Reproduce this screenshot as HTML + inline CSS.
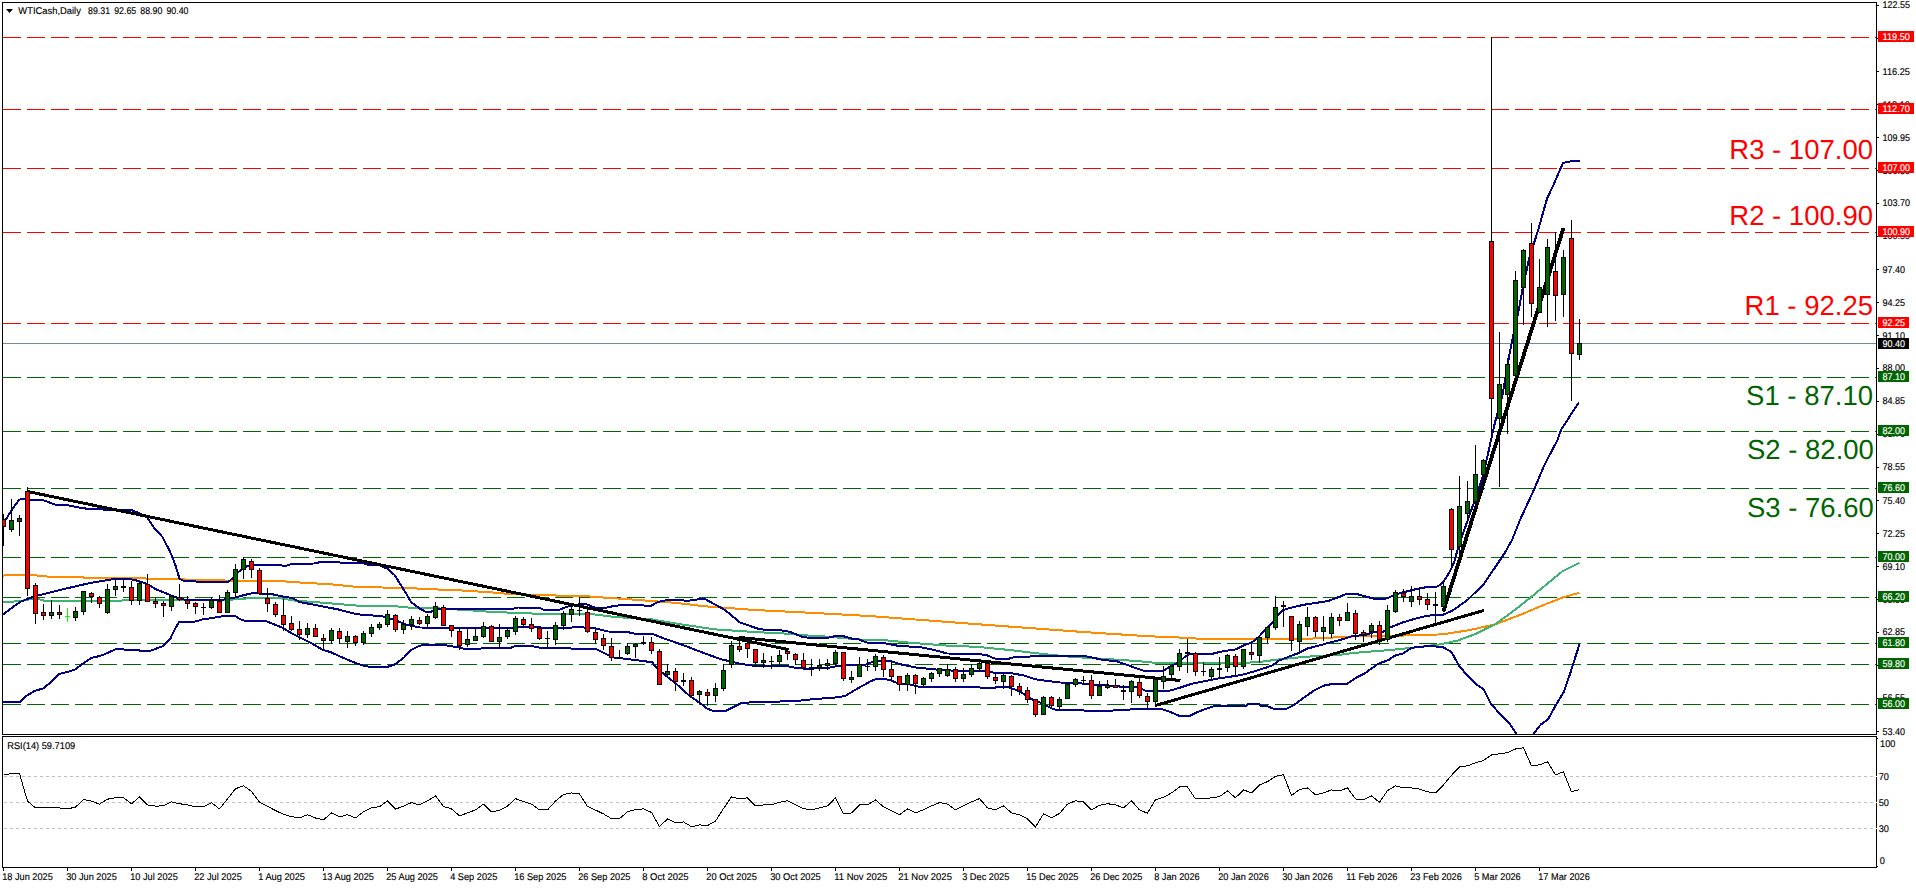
<!DOCTYPE html><html><head><meta charset="utf-8"><title>WTICash Daily</title>
<style>html,body{margin:0;padding:0;background:#fff;overflow:hidden}svg{display:block}text{font-family:"Liberation Sans",sans-serif;text-rendering:geometricPrecision}</style></head><body>
<svg width="1916" height="888" viewBox="0 0 1916 888">
<rect x="0" y="0" width="1916" height="888" fill="#fff"/>
<defs><clipPath id="cm"><rect x="3" y="3" width="1873" height="731"/></clipPath><clipPath id="cr"><rect x="3" y="737" width="1873" height="130"/></clipPath></defs>
<g shape-rendering="crispEdges">
<line x1="3" y1="37.5" x2="1876" y2="37.5" stroke="#ff0000" stroke-width="1" stroke-dasharray="18 6"/>
<line x1="3" y1="109.5" x2="1876" y2="109.5" stroke="#ff0000" stroke-width="1" stroke-dasharray="18 6"/>
<line x1="3" y1="168.5" x2="1876" y2="168.5" stroke="#ff0000" stroke-width="1" stroke-dasharray="18 6"/>
<line x1="3" y1="232.5" x2="1876" y2="232.5" stroke="#ff0000" stroke-width="1" stroke-dasharray="18 6"/>
<line x1="3" y1="323.5" x2="1876" y2="323.5" stroke="#ff0000" stroke-width="1" stroke-dasharray="18 6"/>
<line x1="3" y1="377.5" x2="1876" y2="377.5" stroke="#006400" stroke-width="1" stroke-dasharray="18 6"/>
<line x1="3" y1="431.5" x2="1876" y2="431.5" stroke="#006400" stroke-width="1" stroke-dasharray="18 6"/>
<line x1="3" y1="488.5" x2="1876" y2="488.5" stroke="#006400" stroke-width="1" stroke-dasharray="18 6"/>
<line x1="3" y1="557.5" x2="1876" y2="557.5" stroke="#006400" stroke-width="1" stroke-dasharray="18 6"/>
<line x1="3" y1="597.5" x2="1876" y2="597.5" stroke="#006400" stroke-width="1" stroke-dasharray="18 6"/>
<line x1="3" y1="643.5" x2="1876" y2="643.5" stroke="#006400" stroke-width="1" stroke-dasharray="18 6"/>
<line x1="3" y1="664.5" x2="1876" y2="664.5" stroke="#006400" stroke-width="1" stroke-dasharray="18 6"/>
<line x1="3" y1="704.5" x2="1876" y2="704.5" stroke="#006400" stroke-width="1" stroke-dasharray="18 6"/>
<line x1="3" y1="343.5" x2="1876" y2="343.5" stroke="#778899" stroke-width="1"/>
</g>
<g clip-path="url(#cm)" shape-rendering="crispEdges">
<polyline points="3.0,575.6 12.0,574.6 34.0,574.6 37.0,575.6 52.0,577.0 82.0,577.0 85.0,578.0 140.0,578.0 150.0,578.8 180.0,579.0 190.0,580.0 232.0,580.6 273.0,580.6 299.6,582.5 332.0,584.4 357.0,586.9 382.0,587.5 407.0,588.0 435.0,589.4 452.0,590.0 464.0,590.6 489.0,592.2 507.8,593.8 551.7,595.4 589.0,596.4 603.0,597.5 639.0,600.0 677.0,603.0 704.0,606.2 755.0,610.0 815.0,613.0 872.0,616.2 922.0,620.0 972.0,623.8 1022.0,627.5 1072.0,631.2 1104.0,633.4 1148.0,636.2 1179.0,637.5 1204.0,639.0 1302.5,639.0 1327.5,637.8 1352.5,636.5 1390.0,636.2 1415.0,635.0 1442.5,634.4 1470.0,630.0 1495.0,624.4 1520.0,615.0 1545.0,604.4 1562.5,597.5 1579.4,592.8" fill="none" stroke="#ff8c00" stroke-width="2.0" stroke-linejoin="round" />
<polyline points="3.0,602.5 20.0,601.0 30.0,599.4 40.0,599.4 45.0,601.0 120.0,601.0 125.0,599.8 232.0,599.6 252.0,598.0 282.0,598.5 294.6,600.6 319.7,602.5 357.0,605.6 388.6,605.6 413.6,608.0 432.0,608.0 472.0,610.4 491.5,611.9 539.0,613.8 589.0,613.8 614.0,616.9 652.0,619.4 677.5,623.8 715.0,629.4 752.5,631.9 790.0,633.8 815.0,636.2 827.5,636.6 865.0,640.0 883.0,640.0 913.0,643.0 947.0,645.6 978.0,646.9 1009.5,650.0 1041.0,653.8 1072.0,656.9 1104.0,658.9 1123.0,660.0 1141.5,661.5 1156.5,663.0 1241.5,663.0 1260.0,661.9 1279.0,659.4 1304.0,656.9 1343.5,654.4 1352.5,653.0 1390.0,650.0 1415.0,647.5 1440.0,644.4 1457.5,640.6 1476.0,633.8 1495.0,624.4 1514.0,610.6 1529.0,598.8 1545.0,585.6 1562.5,571.2 1579.4,562.8" fill="none" stroke="#3cb371" stroke-width="2.0" stroke-linejoin="round" />
<polyline points="3.0,523.0 5.0,521.0 11.0,511.0 19.0,500.0 21.0,499.2 29.0,499.4 31.0,500.2 43.5,500.2 56.5,505.2 68.0,505.2 76.0,507.0 88.0,508.9 110.0,509.8 131.0,510.0 139.0,513.0 147.0,517.0 154.0,527.7 162.3,536.8 168.5,548.5 173.0,558.4 176.0,567.0 179.5,578.8 183.0,580.6 203.0,582.0 228.0,582.0 232.0,578.8 236.0,573.8 243.5,568.0 248.0,565.6 257.0,565.0 287.0,565.6 292.0,563.8 314.5,563.5 320.8,561.9 338.0,561.9 340.8,562.9 362.0,563.0 368.0,564.6 379.5,565.4 387.0,568.5 394.5,575.0 400.8,585.0 407.0,595.0 411.0,601.9 420.0,608.8 426.0,611.9 431.0,611.9 435.5,608.8 472.0,608.8 514.0,608.5 518.0,607.5 539.0,607.8 544.0,609.8 559.0,609.8 568.0,606.5 579.0,604.4 587.0,604.4 593.0,606.9 596.5,608.0 605.0,608.0 611.5,606.5 620.0,605.2 651.5,605.6 658.0,601.9 667.0,600.2 689.0,600.6 704.0,598.5 725.0,610.0 740.0,622.5 760.0,629.4 778.8,630.0 790.0,631.9 802.5,636.9 808.8,637.8 827.5,637.8 836.2,635.9 842.5,635.9 852.5,638.8 858.8,639.4 867.5,642.8 883.0,643.0 897.0,645.6 922.0,647.5 934.5,650.0 947.0,653.5 978.0,653.8 988.0,655.6 994.5,658.5 1009.5,658.5 1013.0,657.5 1026.0,657.2 1034.5,655.6 1082.0,655.6 1092.0,657.5 1103.0,660.0 1116.5,661.2 1129.0,665.6 1143.0,670.6 1163.0,671.0 1171.5,665.6 1179.0,662.5 1184.0,657.5 1189.0,654.4 1211.5,654.0 1223.0,651.2 1235.5,649.4 1245.5,644.4 1251.5,642.8 1258.0,637.5 1266.5,628.8 1273.0,621.9 1279.0,613.8 1283.0,610.0 1290.0,608.0 1302.5,605.0 1315.0,603.0 1327.5,601.2 1339.0,597.0 1346.5,593.8 1355.5,593.6 1360.0,595.0 1366.0,596.6 1371.5,598.0 1375.5,599.0 1384.0,599.0 1388.0,598.0 1391.0,596.6 1394.0,594.8 1402.5,592.5 1415.0,589.4 1427.5,586.9 1437.5,586.5 1443.0,582.5 1450.0,571.2 1454.0,562.5 1457.5,550.0 1462.5,535.0 1470.0,513.8 1477.5,492.5 1482.5,477.5 1487.5,456.2 1491.0,440.0 1495.0,422.5 1502.5,395.0 1507.5,365.0 1512.5,338.8 1518.0,313.8 1523.8,282.5 1530.0,255.0 1535.0,240.0 1538.0,230.8 1543.8,210.0 1547.0,198.8 1554.0,183.8 1561.0,167.5 1563.0,163.0 1572.5,161.0 1580.0,160.8" fill="none" stroke="#000080" stroke-width="2.0" stroke-linejoin="round" />
<polyline points="3.0,614.4 20.0,602.0 30.0,598.0 40.0,595.0 65.0,588.8 90.0,583.0 115.0,578.8 125.0,578.5 135.0,580.0 147.0,583.8 155.0,588.8 170.0,595.0 180.0,598.8 190.0,600.5 200.0,600.0 220.0,600.0 228.0,599.0 235.0,597.5 244.5,595.0 253.0,593.0 273.0,594.4 284.6,596.9 292.0,598.0 299.6,602.0 319.7,605.8 338.5,609.5 357.0,614.3 382.0,616.2 395.0,620.0 407.0,625.0 420.0,627.5 472.0,628.0 511.5,628.0 516.5,626.9 538.0,626.9 545.0,628.5 570.0,628.0 576.5,626.6 588.0,628.0 595.5,628.5 608.0,631.5 627.0,632.0 635.6,633.8 652.0,633.8 665.0,638.8 681.2,644.4 702.5,652.5 721.2,659.4 730.0,661.2 740.0,663.8 755.0,666.0 786.2,666.0 796.2,668.0 806.2,668.8 827.5,668.0 835.0,666.5 840.0,665.6 865.0,665.0 872.5,661.9 879.5,660.6 891.0,661.2 903.0,665.0 916.0,667.5 934.5,669.4 952.0,670.6 984.5,670.6 992.0,672.4 1000.0,673.0 1011.5,673.0 1015.0,674.0 1022.0,675.0 1031.0,677.7 1035.0,679.2 1045.0,680.7 1060.0,682.5 1078.0,683.0 1091.0,684.8 1111.5,685.6 1123.0,686.9 1140.0,687.5 1145.0,690.6 1170.0,690.6 1179.0,688.0 1191.5,683.8 1216.5,678.8 1241.5,675.0 1254.0,671.4 1266.5,667.5 1272.0,665.5 1279.0,660.6 1291.5,655.6 1299.0,653.0 1306.5,648.8 1316.5,646.2 1329.0,642.8 1343.5,639.0 1352.5,636.0 1365.0,635.0 1372.5,632.5 1382.5,632.0 1390.0,627.5 1402.5,622.5 1415.0,618.8 1427.5,615.6 1442.5,615.0 1452.5,610.6 1467.5,600.0 1484.0,583.8 1495.0,567.5 1505.0,552.5 1512.0,540.0 1520.0,520.0 1533.8,490.0 1545.0,463.8 1557.5,440.0 1561.0,430.0 1570.0,416.0 1578.8,402.5" fill="none" stroke="#000080" stroke-width="2.0" stroke-linejoin="round" />
<polyline points="3.0,701.9 20.0,701.9 25.0,696.9 34.0,691.2 43.0,688.5 50.0,683.0 59.5,673.8 67.5,672.0 75.0,669.4 82.5,663.8 91.5,657.8 100.0,656.0 107.5,653.0 116.0,649.0 123.0,649.0 125.0,650.0 139.0,650.0 140.0,651.0 150.0,651.0 162.5,646.2 170.0,639.4 175.0,628.8 179.0,622.0 194.0,621.9 202.5,619.4 212.5,618.0 224.0,616.0 235.0,616.0 239.5,618.8 244.0,620.6 266.0,621.0 282.0,627.5 292.5,633.8 311.0,643.0 323.0,650.0 330.0,651.9 342.5,657.5 357.5,663.8 365.0,666.0 371.0,666.9 387.5,666.9 395.0,664.4 404.0,657.5 411.0,650.0 420.0,645.6 425.0,644.8 442.5,644.8 452.5,646.5 458.8,646.9 464.0,648.8 479.0,648.8 486.5,647.5 511.5,647.5 516.5,645.6 530.0,645.6 539.0,647.5 561.7,647.5 579.0,649.4 596.8,649.4 605.5,653.8 614.0,657.5 627.0,659.0 652.0,662.2 656.2,667.5 665.0,675.0 677.5,685.0 690.0,696.2 700.0,703.0 707.5,708.8 712.5,710.6 726.2,710.6 735.0,706.2 741.2,703.0 756.2,702.0 795.0,701.2 815.0,699.0 835.0,697.5 845.0,696.0 855.0,690.0 865.0,684.4 871.0,681.0 876.5,679.0 884.0,679.0 891.0,680.3 897.0,683.0 901.0,684.0 909.5,684.4 919.5,686.9 978.5,686.9 981.0,688.0 994.5,688.0 997.0,686.9 1009.5,687.5 1019.5,691.2 1031.0,698.8 1041.0,703.0 1051.0,708.0 1056.0,710.0 1082.0,710.0 1084.5,710.6 1111.5,710.6 1131.5,709.4 1163.0,709.4 1171.5,712.5 1180.0,716.2 1189.0,716.2 1198.0,711.9 1208.0,708.0 1216.5,705.5 1247.0,705.5 1247.6,703.5 1259.3,703.5 1260.0,705.5 1266.5,705.8 1275.0,709.4 1285.0,709.4 1294.0,705.0 1304.0,697.5 1314.0,690.6 1324.0,685.6 1333.0,683.8 1347.5,683.6 1355.0,678.4 1365.0,673.3 1378.0,663.8 1388.5,660.0 1394.4,655.8 1403.0,653.5 1412.0,647.7 1429.5,646.0 1442.7,647.0 1451.5,652.0 1458.8,665.3 1466.0,674.0 1476.4,684.3 1483.7,689.4 1491.0,704.0 1497.0,710.6 1508.6,722.4 1516.6,734.0 1520.0,739.0 1530.0,739.0 1533.5,734.0 1540.8,724.5 1548.0,719.4 1556.0,704.8 1564.0,691.6 1570.0,674.0 1576.0,655.0 1579.6,644.0" fill="none" stroke="#000080" stroke-width="2.0" stroke-linejoin="round" />
</g>
<g clip-path="url(#cm)" stroke="#000" stroke-linecap="butt" shape-rendering="crispEdges">
<line x1="27" y1="491.4" x2="788.5" y2="649.6" stroke-width="3.0"/>
<line x1="738.5" y1="637.4" x2="1180.5" y2="680.5" stroke-width="3.0"/>
<line x1="1155" y1="705.6" x2="1484" y2="610.4" stroke-width="3.0"/>
<line x1="1443.3" y1="611.5" x2="1563.5" y2="228" stroke-width="3.8"/>
</g>
<g shape-rendering="crispEdges">
<rect x="3" y="514" width="1" height="32" fill="#000"/>
<rect x="3" y="519" width="3" height="8" fill="#000"/>
<rect x="3" y="520" width="2" height="6" fill="#ff0000"/>
<rect x="11" y="499" width="1" height="33" fill="#000"/>
<rect x="9" y="520" width="5" height="10" fill="#000"/>
<rect x="10" y="521" width="3" height="8" fill="#006400"/>
<rect x="19" y="515" width="1" height="21" fill="#000"/>
<rect x="17" y="518" width="5" height="4" fill="#000"/>
<rect x="18" y="519" width="3" height="2" fill="#006400"/>
<rect x="27" y="487" width="1" height="109" fill="#000"/>
<rect x="25" y="491" width="5" height="98" fill="#000"/>
<rect x="26" y="492" width="3" height="96" fill="#ff0000"/>
<rect x="35" y="583" width="1" height="41" fill="#000"/>
<rect x="33" y="585" width="5" height="29" fill="#000"/>
<rect x="34" y="586" width="3" height="27" fill="#ff0000"/>
<rect x="43" y="604" width="1" height="16" fill="#000"/>
<rect x="41" y="612" width="5" height="4" fill="#000"/>
<rect x="42" y="613" width="3" height="2" fill="#ff0000"/>
<rect x="51" y="600" width="1" height="19" fill="#000"/>
<rect x="49" y="612" width="5" height="4" fill="#000"/>
<rect x="50" y="613" width="3" height="2" fill="#006400"/>
<rect x="59" y="605" width="1" height="14" fill="#000"/>
<rect x="57" y="612" width="5" height="3" fill="#000"/>
<rect x="58" y="613" width="3" height="1" fill="#ff0000"/>
<rect x="67" y="608" width="1" height="14" fill="#00ff00"/><rect x="65" y="616" width="5" height="1" fill="#00ff00"/>
<rect x="75" y="607" width="1" height="14" fill="#000"/>
<rect x="73" y="611" width="5" height="7" fill="#000"/>
<rect x="74" y="612" width="3" height="5" fill="#006400"/>
<rect x="83" y="591" width="1" height="24" fill="#000"/>
<rect x="81" y="591" width="5" height="21" fill="#000"/>
<rect x="82" y="592" width="3" height="19" fill="#006400"/>
<rect x="91" y="592" width="1" height="11" fill="#000"/>
<rect x="89" y="593" width="5" height="4" fill="#000"/>
<rect x="90" y="594" width="3" height="2" fill="#ff0000"/>
<rect x="99" y="596" width="1" height="12" fill="#000"/>
<rect x="97" y="597" width="5" height="7" fill="#000"/>
<rect x="98" y="598" width="3" height="5" fill="#ff0000"/>
<rect x="107" y="584" width="1" height="30" fill="#000"/>
<rect x="105" y="589" width="5" height="24" fill="#000"/>
<rect x="106" y="590" width="3" height="22" fill="#006400"/>
<rect x="115" y="578" width="1" height="18" fill="#000"/>
<rect x="113" y="586" width="5" height="4" fill="#000"/>
<rect x="114" y="587" width="3" height="2" fill="#006400"/>
<rect x="123" y="579" width="1" height="13" fill="#000"/>
<rect x="121" y="586" width="5" height="2" fill="#000"/>
<rect x="131" y="581" width="1" height="24" fill="#000"/>
<rect x="129" y="587" width="5" height="14" fill="#000"/>
<rect x="130" y="588" width="3" height="12" fill="#ff0000"/>
<rect x="139" y="582" width="1" height="23" fill="#000"/>
<rect x="137" y="583" width="5" height="18" fill="#000"/>
<rect x="138" y="584" width="3" height="16" fill="#006400"/>
<rect x="147" y="574" width="1" height="28" fill="#000"/>
<rect x="145" y="584" width="5" height="18" fill="#000"/>
<rect x="146" y="585" width="3" height="16" fill="#ff0000"/>
<rect x="155" y="598" width="1" height="10" fill="#000"/>
<rect x="153" y="601" width="5" height="3" fill="#000"/>
<rect x="154" y="602" width="3" height="1" fill="#ff0000"/>
<rect x="163" y="601" width="1" height="16" fill="#000"/>
<rect x="161" y="603" width="5" height="3" fill="#000"/>
<rect x="162" y="604" width="3" height="1" fill="#ff0000"/>
<rect x="171" y="595" width="1" height="16" fill="#000"/>
<rect x="169" y="596" width="5" height="11" fill="#000"/>
<rect x="170" y="597" width="3" height="9" fill="#006400"/>
<rect x="179" y="584" width="1" height="17" fill="#000"/>
<rect x="177" y="597" width="5" height="3" fill="#000"/>
<rect x="178" y="598" width="3" height="1" fill="#ff0000"/>
<rect x="187" y="596" width="1" height="13" fill="#000"/>
<rect x="185" y="600" width="5" height="4" fill="#000"/>
<rect x="186" y="601" width="3" height="2" fill="#ff0000"/>
<rect x="195" y="602" width="1" height="12" fill="#000"/>
<rect x="193" y="603" width="5" height="4" fill="#000"/>
<rect x="194" y="604" width="3" height="2" fill="#ff0000"/>
<rect x="203" y="603" width="1" height="12" fill="#000"/>
<rect x="201" y="607" width="5" height="1" fill="#000"/>
<rect x="211" y="597" width="1" height="12" fill="#000"/>
<rect x="209" y="600" width="5" height="8" fill="#000"/>
<rect x="210" y="601" width="3" height="6" fill="#006400"/>
<rect x="219" y="595" width="1" height="18" fill="#000"/>
<rect x="217" y="601" width="5" height="12" fill="#000"/>
<rect x="218" y="602" width="3" height="10" fill="#ff0000"/>
<rect x="227" y="590" width="1" height="23" fill="#000"/>
<rect x="225" y="592" width="5" height="21" fill="#000"/>
<rect x="226" y="593" width="3" height="19" fill="#006400"/>
<rect x="235" y="564" width="1" height="34" fill="#000"/>
<rect x="233" y="569" width="5" height="24" fill="#000"/>
<rect x="234" y="570" width="3" height="22" fill="#006400"/>
<rect x="243" y="557" width="1" height="22" fill="#000"/>
<rect x="241" y="559" width="5" height="11" fill="#000"/>
<rect x="242" y="560" width="3" height="9" fill="#006400"/>
<rect x="251" y="559" width="1" height="19" fill="#000"/>
<rect x="249" y="561" width="5" height="9" fill="#000"/>
<rect x="250" y="562" width="3" height="7" fill="#ff0000"/>
<rect x="259" y="568" width="1" height="27" fill="#000"/>
<rect x="257" y="570" width="5" height="24" fill="#000"/>
<rect x="258" y="571" width="3" height="22" fill="#ff0000"/>
<rect x="267" y="588" width="1" height="24" fill="#000"/>
<rect x="265" y="598" width="5" height="6" fill="#000"/>
<rect x="266" y="599" width="3" height="4" fill="#ff0000"/>
<rect x="275" y="602" width="1" height="15" fill="#000"/>
<rect x="273" y="604" width="5" height="11" fill="#000"/>
<rect x="274" y="605" width="3" height="9" fill="#ff0000"/>
<rect x="283" y="599" width="1" height="32" fill="#000"/>
<rect x="281" y="615" width="5" height="10" fill="#000"/>
<rect x="282" y="616" width="3" height="8" fill="#ff0000"/>
<rect x="291" y="616" width="1" height="15" fill="#000"/>
<rect x="289" y="623" width="5" height="7" fill="#000"/>
<rect x="290" y="624" width="3" height="5" fill="#ff0000"/>
<rect x="299" y="621" width="1" height="19" fill="#000"/>
<rect x="297" y="629" width="5" height="6" fill="#000"/>
<rect x="298" y="630" width="3" height="4" fill="#ff0000"/>
<rect x="307" y="623" width="1" height="15" fill="#000"/>
<rect x="305" y="628" width="5" height="7" fill="#000"/>
<rect x="306" y="629" width="3" height="5" fill="#006400"/>
<rect x="315" y="624" width="1" height="13" fill="#000"/>
<rect x="313" y="628" width="5" height="9" fill="#000"/>
<rect x="314" y="629" width="3" height="7" fill="#ff0000"/>
<rect x="323" y="634" width="1" height="17" fill="#000"/>
<rect x="321" y="638" width="5" height="3" fill="#000"/>
<rect x="322" y="639" width="3" height="1" fill="#ff0000"/>
<rect x="331" y="628" width="1" height="16" fill="#000"/>
<rect x="329" y="630" width="5" height="11" fill="#000"/>
<rect x="330" y="631" width="3" height="9" fill="#006400"/>
<rect x="339" y="628" width="1" height="16" fill="#000"/>
<rect x="337" y="631" width="5" height="8" fill="#000"/>
<rect x="338" y="632" width="3" height="6" fill="#ff0000"/>
<rect x="347" y="631" width="1" height="17" fill="#000"/>
<rect x="345" y="636" width="5" height="6" fill="#000"/>
<rect x="346" y="637" width="3" height="4" fill="#006400"/>
<rect x="355" y="635" width="1" height="11" fill="#000"/>
<rect x="353" y="636" width="5" height="7" fill="#000"/>
<rect x="354" y="637" width="3" height="5" fill="#ff0000"/>
<rect x="363" y="631" width="1" height="14" fill="#000"/>
<rect x="361" y="633" width="5" height="10" fill="#000"/>
<rect x="362" y="634" width="3" height="8" fill="#006400"/>
<rect x="371" y="624" width="1" height="13" fill="#000"/>
<rect x="369" y="627" width="5" height="7" fill="#000"/>
<rect x="370" y="628" width="3" height="5" fill="#006400"/>
<rect x="379" y="622" width="1" height="8" fill="#000"/>
<rect x="377" y="624" width="5" height="4" fill="#000"/>
<rect x="378" y="625" width="3" height="2" fill="#006400"/>
<rect x="387" y="610" width="1" height="17" fill="#000"/>
<rect x="385" y="614" width="5" height="11" fill="#000"/>
<rect x="386" y="615" width="3" height="9" fill="#006400"/>
<rect x="395" y="614" width="1" height="18" fill="#000"/>
<rect x="393" y="615" width="5" height="15" fill="#000"/>
<rect x="394" y="616" width="3" height="13" fill="#ff0000"/>
<rect x="403" y="620" width="1" height="14" fill="#000"/>
<rect x="401" y="624" width="5" height="6" fill="#000"/>
<rect x="402" y="625" width="3" height="4" fill="#006400"/>
<rect x="411" y="616" width="1" height="14" fill="#000"/>
<rect x="409" y="619" width="5" height="6" fill="#000"/>
<rect x="410" y="620" width="3" height="4" fill="#006400"/>
<rect x="419" y="617" width="1" height="8" fill="#000"/>
<rect x="417" y="620" width="5" height="4" fill="#000"/>
<rect x="418" y="621" width="3" height="2" fill="#ff0000"/>
<rect x="427" y="614" width="1" height="13" fill="#000"/>
<rect x="425" y="616" width="5" height="8" fill="#000"/>
<rect x="426" y="617" width="3" height="6" fill="#006400"/>
<rect x="435" y="602" width="1" height="17" fill="#000"/>
<rect x="433" y="606" width="5" height="12" fill="#000"/>
<rect x="434" y="607" width="3" height="10" fill="#006400"/>
<rect x="443" y="605" width="1" height="21" fill="#000"/>
<rect x="441" y="607" width="5" height="19" fill="#000"/>
<rect x="442" y="608" width="3" height="17" fill="#ff0000"/>
<rect x="451" y="625" width="1" height="12" fill="#000"/>
<rect x="449" y="625" width="5" height="6" fill="#000"/>
<rect x="450" y="626" width="3" height="4" fill="#ff0000"/>
<rect x="459" y="629" width="1" height="21" fill="#000"/>
<rect x="457" y="631" width="5" height="15" fill="#000"/>
<rect x="458" y="632" width="3" height="13" fill="#ff0000"/>
<rect x="467" y="629" width="1" height="18" fill="#000"/>
<rect x="465" y="639" width="5" height="6" fill="#000"/>
<rect x="466" y="640" width="3" height="4" fill="#006400"/>
<rect x="475" y="627" width="1" height="14" fill="#000"/>
<rect x="473" y="636" width="5" height="5" fill="#000"/>
<rect x="474" y="637" width="3" height="3" fill="#006400"/>
<rect x="483" y="622" width="1" height="16" fill="#000"/>
<rect x="481" y="626" width="5" height="11" fill="#000"/>
<rect x="482" y="627" width="3" height="9" fill="#006400"/>
<rect x="491" y="625" width="1" height="17" fill="#000"/>
<rect x="489" y="626" width="5" height="16" fill="#000"/>
<rect x="490" y="627" width="3" height="14" fill="#ff0000"/>
<rect x="499" y="624" width="1" height="24" fill="#000"/>
<rect x="497" y="637" width="5" height="5" fill="#000"/>
<rect x="498" y="638" width="3" height="3" fill="#006400"/>
<rect x="507" y="627" width="1" height="12" fill="#000"/>
<rect x="505" y="630" width="5" height="7" fill="#000"/>
<rect x="506" y="631" width="3" height="5" fill="#006400"/>
<rect x="515" y="616" width="1" height="19" fill="#000"/>
<rect x="513" y="618" width="5" height="14" fill="#000"/>
<rect x="514" y="619" width="3" height="12" fill="#006400"/>
<rect x="523" y="617" width="1" height="11" fill="#000"/>
<rect x="521" y="619" width="5" height="6" fill="#000"/>
<rect x="522" y="620" width="3" height="4" fill="#ff0000"/>
<rect x="531" y="618" width="1" height="14" fill="#000"/>
<rect x="529" y="624" width="5" height="5" fill="#000"/>
<rect x="530" y="625" width="3" height="3" fill="#ff0000"/>
<rect x="539" y="627" width="1" height="13" fill="#000"/>
<rect x="537" y="628" width="5" height="11" fill="#000"/>
<rect x="538" y="629" width="3" height="9" fill="#ff0000"/>
<rect x="547" y="631" width="1" height="16" fill="#000"/>
<rect x="545" y="638" width="5" height="1" fill="#000"/>
<rect x="555" y="622" width="1" height="23" fill="#000"/>
<rect x="553" y="625" width="5" height="15" fill="#000"/>
<rect x="554" y="626" width="3" height="13" fill="#006400"/>
<rect x="563" y="611" width="1" height="19" fill="#000"/>
<rect x="561" y="613" width="5" height="13" fill="#000"/>
<rect x="562" y="614" width="3" height="11" fill="#006400"/>
<rect x="571" y="607" width="1" height="15" fill="#000"/>
<rect x="569" y="609" width="5" height="6" fill="#000"/>
<rect x="570" y="610" width="3" height="4" fill="#006400"/>
<rect x="579" y="597" width="1" height="19" fill="#000"/>
<rect x="577" y="610" width="5" height="1" fill="#000"/>
<rect x="587" y="608" width="1" height="25" fill="#000"/>
<rect x="585" y="612" width="5" height="20" fill="#000"/>
<rect x="586" y="613" width="3" height="18" fill="#ff0000"/>
<rect x="595" y="630" width="1" height="14" fill="#000"/>
<rect x="593" y="632" width="5" height="8" fill="#000"/>
<rect x="594" y="633" width="3" height="6" fill="#ff0000"/>
<rect x="603" y="634" width="1" height="16" fill="#000"/>
<rect x="601" y="638" width="5" height="8" fill="#000"/>
<rect x="602" y="639" width="3" height="6" fill="#ff0000"/>
<rect x="611" y="638" width="1" height="23" fill="#000"/>
<rect x="609" y="646" width="5" height="12" fill="#000"/>
<rect x="610" y="647" width="3" height="10" fill="#ff0000"/>
<rect x="619" y="650" width="1" height="9" fill="#000"/>
<rect x="617" y="657" width="5" height="1" fill="#000"/>
<rect x="627" y="643" width="1" height="12" fill="#000"/>
<rect x="625" y="646" width="5" height="8" fill="#000"/>
<rect x="626" y="647" width="3" height="6" fill="#006400"/>
<rect x="635" y="643" width="1" height="15" fill="#000"/>
<rect x="633" y="644" width="5" height="3" fill="#000"/>
<rect x="634" y="645" width="3" height="1" fill="#006400"/>
<rect x="643" y="636" width="1" height="9" fill="#000"/>
<rect x="641" y="642" width="5" height="2" fill="#000"/>
<rect x="651" y="637" width="1" height="17" fill="#000"/>
<rect x="649" y="642" width="5" height="9" fill="#000"/>
<rect x="650" y="643" width="3" height="7" fill="#ff0000"/>
<rect x="659" y="649" width="1" height="36" fill="#000"/>
<rect x="657" y="651" width="5" height="34" fill="#000"/>
<rect x="658" y="652" width="3" height="32" fill="#ff0000"/>
<rect x="667" y="664" width="1" height="12" fill="#000"/>
<rect x="665" y="671" width="5" height="4" fill="#000"/>
<rect x="666" y="672" width="3" height="2" fill="#006400"/>
<rect x="675" y="668" width="1" height="23" fill="#000"/>
<rect x="673" y="671" width="5" height="11" fill="#000"/>
<rect x="674" y="672" width="3" height="9" fill="#ff0000"/>
<rect x="683" y="673" width="1" height="13" fill="#000"/>
<rect x="681" y="680" width="5" height="2" fill="#000"/>
<rect x="691" y="677" width="1" height="20" fill="#000"/>
<rect x="689" y="680" width="5" height="16" fill="#000"/>
<rect x="690" y="681" width="3" height="14" fill="#ff0000"/>
<rect x="699" y="690" width="1" height="14" fill="#000"/>
<rect x="697" y="691" width="5" height="4" fill="#000"/>
<rect x="698" y="692" width="3" height="2" fill="#006400"/>
<rect x="707" y="689" width="1" height="17" fill="#000"/>
<rect x="705" y="692" width="5" height="4" fill="#000"/>
<rect x="706" y="693" width="3" height="2" fill="#ff0000"/>
<rect x="715" y="683" width="1" height="19" fill="#000"/>
<rect x="713" y="688" width="5" height="8" fill="#000"/>
<rect x="714" y="689" width="3" height="6" fill="#006400"/>
<rect x="723" y="664" width="1" height="27" fill="#000"/>
<rect x="721" y="670" width="5" height="19" fill="#000"/>
<rect x="722" y="671" width="3" height="17" fill="#006400"/>
<rect x="731" y="641" width="1" height="27" fill="#000"/>
<rect x="729" y="645" width="5" height="20" fill="#000"/>
<rect x="730" y="646" width="3" height="18" fill="#006400"/>
<rect x="739" y="637" width="1" height="15" fill="#000"/>
<rect x="737" y="646" width="5" height="4" fill="#000"/>
<rect x="738" y="647" width="3" height="2" fill="#ff0000"/>
<rect x="747" y="640" width="1" height="18" fill="#000"/>
<rect x="745" y="643" width="5" height="6" fill="#000"/>
<rect x="746" y="644" width="3" height="4" fill="#ff0000"/>
<rect x="755" y="649" width="1" height="18" fill="#000"/>
<rect x="753" y="649" width="5" height="14" fill="#000"/>
<rect x="754" y="650" width="3" height="12" fill="#ff0000"/>
<rect x="763" y="653" width="1" height="15" fill="#000"/>
<rect x="761" y="660" width="5" height="3" fill="#000"/>
<rect x="762" y="661" width="3" height="1" fill="#006400"/>
<rect x="771" y="656" width="1" height="13" fill="#000"/>
<rect x="769" y="661" width="5" height="1" fill="#000"/>
<rect x="779" y="650" width="1" height="15" fill="#000"/>
<rect x="777" y="655" width="5" height="7" fill="#000"/>
<rect x="778" y="656" width="3" height="5" fill="#006400"/>
<rect x="787" y="649" width="1" height="11" fill="#000"/>
<rect x="785" y="651" width="5" height="3" fill="#000"/>
<rect x="786" y="652" width="3" height="1" fill="#ff0000"/>
<rect x="795" y="653" width="1" height="12" fill="#000"/>
<rect x="793" y="654" width="5" height="6" fill="#000"/>
<rect x="794" y="655" width="3" height="4" fill="#ff0000"/>
<rect x="803" y="653" width="1" height="16" fill="#000"/>
<rect x="801" y="660" width="5" height="8" fill="#000"/>
<rect x="802" y="661" width="3" height="6" fill="#ff0000"/>
<rect x="811" y="659" width="1" height="17" fill="#000"/>
<rect x="809" y="667" width="5" height="2" fill="#000"/>
<rect x="819" y="659" width="1" height="12" fill="#000"/>
<rect x="817" y="665" width="5" height="3" fill="#000"/>
<rect x="818" y="666" width="3" height="1" fill="#006400"/>
<rect x="827" y="659" width="1" height="11" fill="#000"/>
<rect x="825" y="663" width="5" height="3" fill="#000"/>
<rect x="826" y="664" width="3" height="1" fill="#006400"/>
<rect x="835" y="650" width="1" height="17" fill="#000"/>
<rect x="833" y="652" width="5" height="12" fill="#000"/>
<rect x="834" y="653" width="3" height="10" fill="#006400"/>
<rect x="843" y="652" width="1" height="29" fill="#000"/>
<rect x="841" y="652" width="5" height="27" fill="#000"/>
<rect x="842" y="653" width="3" height="25" fill="#ff0000"/>
<rect x="851" y="671" width="1" height="12" fill="#000"/>
<rect x="849" y="677" width="5" height="3" fill="#000"/>
<rect x="850" y="678" width="3" height="1" fill="#006400"/>
<rect x="859" y="657" width="1" height="20" fill="#000"/>
<rect x="857" y="664" width="5" height="13" fill="#000"/>
<rect x="858" y="665" width="3" height="11" fill="#006400"/>
<rect x="867" y="659" width="1" height="12" fill="#000"/>
<rect x="865" y="666" width="5" height="1" fill="#000"/>
<rect x="875" y="654" width="1" height="17" fill="#000"/>
<rect x="873" y="656" width="5" height="11" fill="#000"/>
<rect x="874" y="657" width="3" height="9" fill="#006400"/>
<rect x="883" y="655" width="1" height="22" fill="#000"/>
<rect x="881" y="657" width="5" height="13" fill="#000"/>
<rect x="882" y="658" width="3" height="11" fill="#ff0000"/>
<rect x="891" y="662" width="1" height="17" fill="#000"/>
<rect x="889" y="669" width="5" height="8" fill="#000"/>
<rect x="890" y="670" width="3" height="6" fill="#ff0000"/>
<rect x="899" y="676" width="1" height="15" fill="#000"/>
<rect x="897" y="676" width="5" height="9" fill="#000"/>
<rect x="898" y="677" width="3" height="7" fill="#ff0000"/>
<rect x="907" y="673" width="1" height="18" fill="#000"/>
<rect x="905" y="675" width="5" height="10" fill="#000"/>
<rect x="906" y="676" width="3" height="8" fill="#006400"/>
<rect x="915" y="674" width="1" height="20" fill="#000"/>
<rect x="913" y="675" width="5" height="9" fill="#000"/>
<rect x="914" y="676" width="3" height="7" fill="#ff0000"/>
<rect x="923" y="677" width="1" height="11" fill="#000"/>
<rect x="921" y="678" width="5" height="7" fill="#000"/>
<rect x="922" y="679" width="3" height="5" fill="#006400"/>
<rect x="931" y="672" width="1" height="10" fill="#000"/>
<rect x="929" y="673" width="5" height="6" fill="#000"/>
<rect x="930" y="674" width="3" height="4" fill="#006400"/>
<rect x="939" y="668" width="1" height="9" fill="#000"/>
<rect x="937" y="668" width="5" height="6" fill="#000"/>
<rect x="938" y="669" width="3" height="4" fill="#006400"/>
<rect x="947" y="664" width="1" height="13" fill="#000"/>
<rect x="945" y="669" width="5" height="7" fill="#000"/>
<rect x="946" y="670" width="3" height="5" fill="#006400"/>
<rect x="955" y="667" width="1" height="15" fill="#000"/>
<rect x="953" y="669" width="5" height="10" fill="#000"/>
<rect x="954" y="670" width="3" height="8" fill="#ff0000"/>
<rect x="963" y="668" width="1" height="14" fill="#000"/>
<rect x="961" y="674" width="5" height="5" fill="#000"/>
<rect x="962" y="675" width="3" height="3" fill="#006400"/>
<rect x="971" y="664" width="1" height="13" fill="#000"/>
<rect x="969" y="668" width="5" height="7" fill="#000"/>
<rect x="970" y="669" width="3" height="5" fill="#006400"/>
<rect x="979" y="661" width="1" height="11" fill="#000"/>
<rect x="977" y="663" width="5" height="6" fill="#000"/>
<rect x="978" y="664" width="3" height="4" fill="#006400"/>
<rect x="987" y="663" width="1" height="16" fill="#000"/>
<rect x="985" y="663" width="5" height="14" fill="#000"/>
<rect x="986" y="664" width="3" height="12" fill="#ff0000"/>
<rect x="995" y="673" width="1" height="11" fill="#000"/>
<rect x="993" y="677" width="5" height="4" fill="#000"/>
<rect x="994" y="678" width="3" height="2" fill="#ff0000"/>
<rect x="1003" y="674" width="1" height="15" fill="#000"/>
<rect x="1001" y="675" width="5" height="7" fill="#000"/>
<rect x="1002" y="676" width="3" height="5" fill="#006400"/>
<rect x="1011" y="675" width="1" height="21" fill="#000"/>
<rect x="1009" y="676" width="5" height="11" fill="#000"/>
<rect x="1010" y="677" width="3" height="9" fill="#ff0000"/>
<rect x="1019" y="683" width="1" height="12" fill="#000"/>
<rect x="1017" y="686" width="5" height="5" fill="#000"/>
<rect x="1018" y="687" width="3" height="3" fill="#ff0000"/>
<rect x="1027" y="687" width="1" height="16" fill="#000"/>
<rect x="1025" y="690" width="5" height="10" fill="#000"/>
<rect x="1026" y="691" width="3" height="8" fill="#ff0000"/>
<rect x="1035" y="699" width="1" height="18" fill="#000"/>
<rect x="1033" y="699" width="5" height="16" fill="#000"/>
<rect x="1034" y="700" width="3" height="14" fill="#ff0000"/>
<rect x="1043" y="696" width="1" height="19" fill="#000"/>
<rect x="1041" y="697" width="5" height="18" fill="#000"/>
<rect x="1042" y="698" width="3" height="16" fill="#006400"/>
<rect x="1051" y="696" width="1" height="12" fill="#000"/>
<rect x="1049" y="697" width="5" height="9" fill="#000"/>
<rect x="1050" y="698" width="3" height="7" fill="#ff0000"/>
<rect x="1059" y="697" width="1" height="13" fill="#000"/>
<rect x="1057" y="699" width="5" height="8" fill="#000"/>
<rect x="1058" y="700" width="3" height="6" fill="#006400"/>
<rect x="1067" y="682" width="1" height="17" fill="#000"/>
<rect x="1065" y="684" width="5" height="15" fill="#000"/>
<rect x="1066" y="685" width="3" height="13" fill="#006400"/>
<rect x="1075" y="678" width="1" height="9" fill="#000"/>
<rect x="1073" y="679" width="5" height="6" fill="#000"/>
<rect x="1074" y="680" width="3" height="4" fill="#006400"/>
<rect x="1083" y="676" width="1" height="8" fill="#000"/>
<rect x="1081" y="680" width="5" height="1" fill="#000"/>
<rect x="1091" y="675" width="1" height="24" fill="#000"/>
<rect x="1089" y="680" width="5" height="16" fill="#000"/>
<rect x="1090" y="681" width="3" height="14" fill="#ff0000"/>
<rect x="1099" y="681" width="1" height="15" fill="#000"/>
<rect x="1097" y="686" width="5" height="10" fill="#000"/>
<rect x="1098" y="687" width="3" height="8" fill="#006400"/>
<rect x="1107" y="680" width="1" height="9" fill="#000"/>
<rect x="1105" y="685" width="5" height="3" fill="#000"/>
<rect x="1106" y="686" width="3" height="1" fill="#006400"/>
<rect x="1115" y="679" width="1" height="9" fill="#000"/>
<rect x="1113" y="685" width="5" height="3" fill="#000"/>
<rect x="1114" y="686" width="3" height="1" fill="#ff0000"/>
<rect x="1123" y="685" width="1" height="15" fill="#000"/>
<rect x="1121" y="690" width="5" height="2" fill="#000"/>
<rect x="1131" y="680" width="1" height="23" fill="#000"/>
<rect x="1129" y="681" width="5" height="11" fill="#000"/>
<rect x="1130" y="682" width="3" height="9" fill="#006400"/>
<rect x="1139" y="678" width="1" height="20" fill="#000"/>
<rect x="1137" y="682" width="5" height="14" fill="#000"/>
<rect x="1138" y="683" width="3" height="12" fill="#ff0000"/>
<rect x="1147" y="693" width="1" height="16" fill="#000"/>
<rect x="1145" y="696" width="5" height="6" fill="#000"/>
<rect x="1146" y="697" width="3" height="4" fill="#ff0000"/>
<rect x="1155" y="677" width="1" height="29" fill="#000"/>
<rect x="1153" y="679" width="5" height="23" fill="#000"/>
<rect x="1154" y="680" width="3" height="21" fill="#006400"/>
<rect x="1163" y="666" width="1" height="23" fill="#000"/>
<rect x="1161" y="676" width="5" height="6" fill="#000"/>
<rect x="1162" y="677" width="3" height="4" fill="#006400"/>
<rect x="1171" y="665" width="1" height="14" fill="#000"/>
<rect x="1169" y="666" width="5" height="9" fill="#000"/>
<rect x="1170" y="667" width="3" height="7" fill="#006400"/>
<rect x="1179" y="649" width="1" height="22" fill="#000"/>
<rect x="1177" y="653" width="5" height="14" fill="#000"/>
<rect x="1178" y="654" width="3" height="12" fill="#006400"/>
<rect x="1187" y="639" width="1" height="34" fill="#000"/>
<rect x="1185" y="652" width="5" height="2" fill="#000"/>
<rect x="1195" y="652" width="1" height="24" fill="#000"/>
<rect x="1193" y="653" width="5" height="19" fill="#000"/>
<rect x="1194" y="654" width="3" height="17" fill="#ff0000"/>
<rect x="1203" y="662" width="1" height="14" fill="#000"/>
<rect x="1201" y="671" width="5" height="1" fill="#000"/>
<rect x="1211" y="667" width="1" height="12" fill="#000"/>
<rect x="1209" y="669" width="5" height="8" fill="#000"/>
<rect x="1210" y="670" width="3" height="6" fill="#006400"/>
<rect x="1219" y="657" width="1" height="20" fill="#000"/>
<rect x="1217" y="668" width="5" height="2" fill="#000"/>
<rect x="1227" y="654" width="1" height="18" fill="#000"/>
<rect x="1225" y="655" width="5" height="13" fill="#000"/>
<rect x="1226" y="656" width="3" height="11" fill="#006400"/>
<rect x="1235" y="654" width="1" height="22" fill="#000"/>
<rect x="1233" y="656" width="5" height="11" fill="#000"/>
<rect x="1234" y="657" width="3" height="9" fill="#ff0000"/>
<rect x="1243" y="649" width="1" height="20" fill="#000"/>
<rect x="1241" y="649" width="5" height="18" fill="#000"/>
<rect x="1242" y="650" width="3" height="16" fill="#006400"/>
<rect x="1251" y="644" width="1" height="16" fill="#000"/>
<rect x="1249" y="652" width="5" height="3" fill="#000"/>
<rect x="1250" y="653" width="3" height="1" fill="#ff0000"/>
<rect x="1259" y="636" width="1" height="27" fill="#000"/>
<rect x="1257" y="637" width="5" height="19" fill="#000"/>
<rect x="1258" y="638" width="3" height="17" fill="#006400"/>
<rect x="1267" y="626" width="1" height="17" fill="#000"/>
<rect x="1265" y="627" width="5" height="11" fill="#000"/>
<rect x="1266" y="628" width="3" height="9" fill="#006400"/>
<rect x="1275" y="596" width="1" height="34" fill="#000"/>
<rect x="1273" y="607" width="5" height="21" fill="#000"/>
<rect x="1274" y="608" width="3" height="19" fill="#006400"/>
<rect x="1283" y="601" width="1" height="26" fill="#000"/>
<rect x="1281" y="605" width="5" height="2" fill="#000"/>
<rect x="1291" y="616" width="1" height="35" fill="#000"/>
<rect x="1289" y="616" width="5" height="25" fill="#000"/>
<rect x="1290" y="617" width="3" height="23" fill="#ff0000"/>
<rect x="1299" y="621" width="1" height="33" fill="#000"/>
<rect x="1297" y="624" width="5" height="18" fill="#000"/>
<rect x="1298" y="625" width="3" height="16" fill="#006400"/>
<rect x="1307" y="607" width="1" height="29" fill="#000"/>
<rect x="1305" y="617" width="5" height="10" fill="#000"/>
<rect x="1306" y="618" width="3" height="8" fill="#006400"/>
<rect x="1315" y="616" width="1" height="21" fill="#000"/>
<rect x="1313" y="617" width="5" height="15" fill="#000"/>
<rect x="1314" y="618" width="3" height="13" fill="#ff0000"/>
<rect x="1323" y="616" width="1" height="25" fill="#000"/>
<rect x="1321" y="627" width="5" height="5" fill="#000"/>
<rect x="1322" y="628" width="3" height="3" fill="#006400"/>
<rect x="1331" y="613" width="1" height="25" fill="#000"/>
<rect x="1329" y="617" width="5" height="17" fill="#000"/>
<rect x="1330" y="618" width="3" height="15" fill="#006400"/>
<rect x="1339" y="614" width="1" height="12" fill="#000"/>
<rect x="1337" y="617" width="5" height="4" fill="#000"/>
<rect x="1338" y="618" width="3" height="2" fill="#ff0000"/>
<rect x="1347" y="603" width="1" height="18" fill="#000"/>
<rect x="1345" y="612" width="5" height="9" fill="#000"/>
<rect x="1346" y="613" width="3" height="7" fill="#006400"/>
<rect x="1355" y="610" width="1" height="30" fill="#000"/>
<rect x="1353" y="613" width="5" height="21" fill="#000"/>
<rect x="1354" y="614" width="3" height="19" fill="#ff0000"/>
<rect x="1363" y="630" width="1" height="12" fill="#000"/>
<rect x="1361" y="632" width="5" height="3" fill="#000"/>
<rect x="1362" y="633" width="3" height="1" fill="#ff0000"/>
<rect x="1371" y="623" width="1" height="15" fill="#000"/>
<rect x="1369" y="625" width="5" height="7" fill="#000"/>
<rect x="1370" y="626" width="3" height="5" fill="#006400"/>
<rect x="1379" y="621" width="1" height="24" fill="#000"/>
<rect x="1377" y="625" width="5" height="15" fill="#000"/>
<rect x="1378" y="626" width="3" height="13" fill="#ff0000"/>
<rect x="1387" y="605" width="1" height="37" fill="#000"/>
<rect x="1385" y="610" width="5" height="30" fill="#000"/>
<rect x="1386" y="611" width="3" height="28" fill="#006400"/>
<rect x="1395" y="590" width="1" height="23" fill="#000"/>
<rect x="1393" y="592" width="5" height="20" fill="#000"/>
<rect x="1394" y="593" width="3" height="18" fill="#006400"/>
<rect x="1403" y="589" width="1" height="13" fill="#000"/>
<rect x="1401" y="593" width="5" height="4" fill="#000"/>
<rect x="1402" y="594" width="3" height="2" fill="#ff0000"/>
<rect x="1411" y="586" width="1" height="21" fill="#000"/>
<rect x="1409" y="596" width="5" height="6" fill="#000"/>
<rect x="1410" y="597" width="3" height="4" fill="#006400"/>
<rect x="1419" y="588" width="1" height="17" fill="#000"/>
<rect x="1417" y="596" width="5" height="4" fill="#000"/>
<rect x="1418" y="597" width="3" height="2" fill="#ff0000"/>
<rect x="1427" y="593" width="1" height="17" fill="#000"/>
<rect x="1425" y="599" width="5" height="6" fill="#000"/>
<rect x="1426" y="600" width="3" height="4" fill="#ff0000"/>
<rect x="1435" y="592" width="1" height="31" fill="#000"/>
<rect x="1433" y="604" width="5" height="2" fill="#000"/>
<rect x="1443" y="581" width="1" height="31" fill="#000"/>
<rect x="1441" y="586" width="5" height="21" fill="#000"/>
<rect x="1442" y="587" width="3" height="19" fill="#006400"/>
<rect x="1451" y="508" width="1" height="60" fill="#000"/>
<rect x="1449" y="509" width="5" height="41" fill="#000"/>
<rect x="1450" y="510" width="3" height="39" fill="#ff0000"/>
<rect x="1459" y="476" width="1" height="78" fill="#000"/>
<rect x="1457" y="506" width="5" height="41" fill="#000"/>
<rect x="1458" y="507" width="3" height="39" fill="#006400"/>
<rect x="1467" y="481" width="1" height="42" fill="#000"/>
<rect x="1465" y="501" width="5" height="13" fill="#000"/>
<rect x="1466" y="502" width="3" height="11" fill="#006400"/>
<rect x="1475" y="445" width="1" height="57" fill="#000"/>
<rect x="1473" y="474" width="5" height="28" fill="#000"/>
<rect x="1474" y="475" width="3" height="26" fill="#006400"/>
<rect x="1483" y="459" width="1" height="16" fill="#000"/>
<rect x="1481" y="460" width="5" height="15" fill="#000"/>
<rect x="1482" y="461" width="3" height="13" fill="#006400"/>
<rect x="1491" y="37" width="1" height="403" fill="#000"/>
<rect x="1489" y="241" width="5" height="158" fill="#000"/>
<rect x="1490" y="242" width="3" height="156" fill="#ff0000"/>
<rect x="1499" y="332" width="1" height="155" fill="#000"/>
<rect x="1497" y="384" width="5" height="35" fill="#000"/>
<rect x="1498" y="385" width="3" height="33" fill="#006400"/>
<rect x="1507" y="358" width="1" height="76" fill="#000"/>
<rect x="1505" y="364" width="5" height="31" fill="#000"/>
<rect x="1506" y="365" width="3" height="29" fill="#006400"/>
<rect x="1515" y="271" width="1" height="105" fill="#000"/>
<rect x="1513" y="280" width="5" height="96" fill="#000"/>
<rect x="1514" y="281" width="3" height="94" fill="#006400"/>
<rect x="1523" y="249" width="1" height="76" fill="#000"/>
<rect x="1521" y="250" width="5" height="38" fill="#000"/>
<rect x="1522" y="251" width="3" height="36" fill="#006400"/>
<rect x="1531" y="223" width="1" height="94" fill="#000"/>
<rect x="1529" y="243" width="5" height="61" fill="#000"/>
<rect x="1530" y="244" width="3" height="59" fill="#ff0000"/>
<rect x="1539" y="259" width="1" height="54" fill="#000"/>
<rect x="1537" y="287" width="5" height="26" fill="#000"/>
<rect x="1538" y="288" width="3" height="24" fill="#006400"/>
<rect x="1547" y="239" width="1" height="88" fill="#000"/>
<rect x="1545" y="247" width="5" height="48" fill="#000"/>
<rect x="1546" y="248" width="3" height="46" fill="#006400"/>
<rect x="1555" y="232" width="1" height="89" fill="#000"/>
<rect x="1553" y="271" width="5" height="25" fill="#000"/>
<rect x="1554" y="272" width="3" height="23" fill="#ff0000"/>
<rect x="1563" y="250" width="1" height="67" fill="#000"/>
<rect x="1561" y="257" width="5" height="38" fill="#000"/>
<rect x="1562" y="258" width="3" height="36" fill="#006400"/>
<rect x="1571" y="220" width="1" height="181" fill="#000"/>
<rect x="1569" y="238" width="5" height="116" fill="#000"/>
<rect x="1570" y="239" width="3" height="114" fill="#ff0000"/>
<rect x="1579" y="319" width="1" height="41" fill="#000"/>
<rect x="1577" y="343" width="5" height="12" fill="#000"/>
<rect x="1578" y="344" width="3" height="10" fill="#006400"/>
</g>
<g shape-rendering="crispEdges" fill="#000">
<rect x="2" y="2" width="1875" height="1"/>
<rect x="2" y="2" width="1" height="733"/>
<rect x="2" y="734" width="1875" height="1"/>
<rect x="2" y="736" width="1875" height="1"/>
<rect x="2" y="736" width="1" height="132"/>
<rect x="2" y="867" width="1875" height="1"/>
<rect x="1876" y="2" width="1" height="866"/>
</g>
<g shape-rendering="crispEdges">
<line x1="4" y1="776.5" x2="1876" y2="776.5" stroke="#c0c0c0" stroke-width="1" stroke-dasharray="3 3"/><rect x="1876" y="776" width="1" height="1" fill="#f4f4f4"/>
<line x1="4" y1="802.5" x2="1876" y2="802.5" stroke="#c0c0c0" stroke-width="1" stroke-dasharray="3 3"/><rect x="1876" y="802" width="1" height="1" fill="#f4f4f4"/>
<line x1="4" y1="828.5" x2="1876" y2="828.5" stroke="#c0c0c0" stroke-width="1" stroke-dasharray="3 3"/><rect x="1876" y="828" width="1" height="1" fill="#f4f4f4"/>
<rect x="1877" y="738" width="1" height="1" fill="#000"/><rect x="1877" y="866" width="1" height="1" fill="#000"/>
<rect x="1876" y="735" width="1" height="1" fill="#fff"/>
</g>
<g clip-path="url(#cr)" shape-rendering="crispEdges">
<polyline points="3.5,775.1 11.5,773.6 19.5,773.6 27.5,801.1 35.5,807.9 43.5,807.9 51.5,807.9 59.5,807.9 67.5,808.9 75.5,807.1 83.5,799.6 91.5,801.1 99.5,804.1 107.5,799.2 115.5,797.7 123.5,797.7 131.5,803.8 139.5,796.9 147.5,804.9 155.5,806.1 163.5,805.9 171.5,801.9 179.5,803.7 187.5,804.9 195.5,806.7 203.5,806.7 211.5,802.8 219.5,808.9 227.5,798.9 235.5,788.8 243.5,785.7 251.5,791.4 259.5,802.3 267.5,806.4 275.5,810.5 283.5,814.4 291.5,816.6 299.5,818.0 307.5,814.7 315.5,818.0 323.5,819.9 331.5,812.9 339.5,816.9 347.5,814.7 355.5,818.0 363.5,811.7 371.5,807.9 379.5,806.7 387.5,800.8 395.5,809.1 403.5,806.1 411.5,802.6 419.5,804.9 427.5,800.8 435.5,795.9 443.5,806.4 451.5,808.9 459.5,815.9 467.5,812.9 475.5,809.9 483.5,804.1 491.5,812.0 499.5,810.1 507.5,806.1 515.5,798.6 523.5,801.6 531.5,804.1 539.5,809.9 547.5,809.9 555.5,801.1 563.5,794.4 571.5,792.9 579.5,793.9 587.5,806.4 595.5,810.1 603.5,813.9 611.5,818.7 619.5,818.7 627.5,811.7 635.5,809.7 643.5,808.9 651.5,812.4 659.5,826.7 667.5,818.9 675.5,822.9 683.5,821.9 691.5,826.7 699.5,824.9 707.5,825.6 715.5,821.1 723.5,808.6 731.5,796.9 739.5,798.9 747.5,797.8 755.5,805.9 763.5,804.9 771.5,804.9 779.5,802.2 787.5,800.8 795.5,804.9 803.5,808.6 811.5,809.9 819.5,807.9 827.5,805.9 835.5,797.8 843.5,813.9 851.5,812.9 859.5,804.9 867.5,804.9 875.5,799.9 883.5,806.7 891.5,810.6 899.5,814.7 907.5,808.9 915.5,812.9 923.5,809.7 931.5,805.9 939.5,802.6 947.5,804.1 955.5,809.9 963.5,805.6 971.5,801.9 979.5,798.6 987.5,807.9 995.5,809.9 1003.5,805.9 1011.5,812.9 1019.5,814.7 1027.5,818.9 1035.5,827.0 1043.5,813.9 1051.5,817.7 1059.5,813.5 1067.5,804.1 1075.5,800.8 1083.5,801.9 1091.5,809.9 1099.5,805.3 1107.5,803.7 1115.5,804.9 1123.5,807.9 1131.5,800.8 1139.5,809.9 1147.5,813.2 1155.5,799.6 1163.5,797.4 1171.5,792.9 1179.5,786.9 1187.5,786.9 1195.5,798.9 1203.5,798.9 1211.5,797.8 1219.5,796.6 1227.5,790.9 1235.5,797.8 1243.5,789.9 1251.5,792.9 1259.5,784.9 1267.5,781.6 1275.5,776.3 1283.5,774.8 1291.5,795.6 1299.5,789.4 1307.5,787.9 1315.5,794.8 1323.5,792.9 1331.5,789.9 1339.5,790.9 1347.5,787.9 1355.5,798.9 1363.5,799.9 1371.5,795.9 1379.5,802.3 1387.5,790.6 1395.5,785.8 1403.5,787.9 1411.5,787.9 1419.5,789.1 1427.5,791.8 1435.5,792.9 1443.5,784.9 1451.5,775.3 1459.5,767.0 1467.5,765.8 1475.5,762.8 1483.5,760.5 1491.5,755.0 1499.5,753.8 1507.5,752.7 1515.5,749.0 1523.5,747.8 1531.5,765.8 1539.5,764.8 1547.5,761.8 1555.5,774.8 1563.5,771.8 1571.5,791.8 1579.5,789.6" fill="none" stroke="#000" stroke-width="1.0" stroke-linejoin="round" />
</g>
<path d="M6 9 L13 9 L9.5 13 Z" fill="#000"/>
<text transform="translate(18.3,13.6) scale(0.9388,1)" font-size="9.8" fill="#000" text-anchor="start" textLength="66.68" lengthAdjust="spacingAndGlyphs" stroke="#000" stroke-width="0.15" >WTICash,Daily</text>
<text transform="translate(88.0,13.6) scale(0.9388,1)" font-size="9.8" fill="#000" text-anchor="start" textLength="23.54" lengthAdjust="spacingAndGlyphs" stroke="#000" stroke-width="0.15" >89.31</text>
<text transform="translate(114.13,13.6) scale(0.9388,1)" font-size="9.8" fill="#000" text-anchor="start" textLength="23.54" lengthAdjust="spacingAndGlyphs" stroke="#000" stroke-width="0.15" >92.65</text>
<text transform="translate(140.26,13.6) scale(0.9388,1)" font-size="9.8" fill="#000" text-anchor="start" textLength="23.54" lengthAdjust="spacingAndGlyphs" stroke="#000" stroke-width="0.15" >88.90</text>
<text transform="translate(166.39,13.6) scale(0.9388,1)" font-size="9.8" fill="#000" text-anchor="start" textLength="23.54" lengthAdjust="spacingAndGlyphs" stroke="#000" stroke-width="0.15" >90.40</text>
<text transform="translate(7.2,749) scale(0.9388,1)" font-size="9.8" fill="#000" text-anchor="start" textLength="72.43" lengthAdjust="spacingAndGlyphs" stroke="#000" stroke-width="0.15" >RSI(14) 59.7109</text>
<g shape-rendering="crispEdges" fill="#000">
<rect x="1877" y="5" width="2" height="1"/>
<rect x="1877" y="38" width="2" height="1"/>
<rect x="1877" y="71" width="2" height="1"/>
<rect x="1877" y="104" width="2" height="1"/>
<rect x="1877" y="137" width="2" height="1"/>
<rect x="1877" y="170" width="2" height="1"/>
<rect x="1877" y="203" width="2" height="1"/>
<rect x="1877" y="236" width="2" height="1"/>
<rect x="1877" y="269" width="2" height="1"/>
<rect x="1877" y="302" width="2" height="1"/>
<rect x="1877" y="335" width="2" height="1"/>
<rect x="1877" y="368" width="2" height="1"/>
<rect x="1877" y="401" width="2" height="1"/>
<rect x="1877" y="434" width="2" height="1"/>
<rect x="1877" y="467" width="2" height="1"/>
<rect x="1877" y="500" width="2" height="1"/>
<rect x="1877" y="533" width="2" height="1"/>
<rect x="1877" y="566" width="2" height="1"/>
<rect x="1877" y="599" width="2" height="1"/>
<rect x="1877" y="632" width="2" height="1"/>
<rect x="1877" y="665" width="2" height="1"/>
<rect x="1877" y="698" width="2" height="1"/>
<rect x="1877" y="731" width="2" height="1"/>
</g>
<text transform="translate(1882.5,8.4) scale(0.9388,1)" font-size="9.8" fill="#000" text-anchor="start" textLength="29.29" lengthAdjust="spacingAndGlyphs" stroke="#000" stroke-width="0.15" >122.55</text>
<text transform="translate(1882.5,41.5) scale(0.9388,1)" font-size="9.8" fill="#000" text-anchor="start" textLength="29.29" lengthAdjust="spacingAndGlyphs" stroke="#000" stroke-width="0.15" >119.40</text>
<text transform="translate(1882.5,74.5) scale(0.9388,1)" font-size="9.8" fill="#000" text-anchor="start" textLength="29.29" lengthAdjust="spacingAndGlyphs" stroke="#000" stroke-width="0.15" >116.25</text>
<text transform="translate(1882.5,107.6) scale(0.9388,1)" font-size="9.8" fill="#000" text-anchor="start" textLength="29.29" lengthAdjust="spacingAndGlyphs" stroke="#000" stroke-width="0.15" >113.10</text>
<text transform="translate(1882.5,140.7) scale(0.9388,1)" font-size="9.8" fill="#000" text-anchor="start" textLength="29.29" lengthAdjust="spacingAndGlyphs" stroke="#000" stroke-width="0.15" >109.95</text>
<text transform="translate(1882.5,173.8) scale(0.9388,1)" font-size="9.8" fill="#000" text-anchor="start" textLength="29.29" lengthAdjust="spacingAndGlyphs" stroke="#000" stroke-width="0.15" >106.80</text>
<text transform="translate(1882.5,206.3) scale(0.9388,1)" font-size="9.8" fill="#000" text-anchor="start" textLength="29.29" lengthAdjust="spacingAndGlyphs" stroke="#000" stroke-width="0.15" >103.70</text>
<text transform="translate(1882.5,239.4) scale(0.9388,1)" font-size="9.8" fill="#000" text-anchor="start" textLength="29.29" lengthAdjust="spacingAndGlyphs" stroke="#000" stroke-width="0.15" >100.55</text>
<text transform="translate(1882.5,272.5) scale(0.9388,1)" font-size="9.8" fill="#000" text-anchor="start" textLength="24.07" lengthAdjust="spacingAndGlyphs" stroke="#000" stroke-width="0.15" >97.40</text>
<text transform="translate(1882.5,305.6) scale(0.9388,1)" font-size="9.8" fill="#000" text-anchor="start" textLength="24.07" lengthAdjust="spacingAndGlyphs" stroke="#000" stroke-width="0.15" >94.25</text>
<text transform="translate(1882.5,338.6) scale(0.9388,1)" font-size="9.8" fill="#000" text-anchor="start" textLength="24.07" lengthAdjust="spacingAndGlyphs" stroke="#000" stroke-width="0.15" >91.10</text>
<text transform="translate(1882.5,371.2) scale(0.9388,1)" font-size="9.8" fill="#000" text-anchor="start" textLength="24.07" lengthAdjust="spacingAndGlyphs" stroke="#000" stroke-width="0.15" >88.00</text>
<text transform="translate(1882.5,404.3) scale(0.9388,1)" font-size="9.8" fill="#000" text-anchor="start" textLength="24.07" lengthAdjust="spacingAndGlyphs" stroke="#000" stroke-width="0.15" >84.85</text>
<text transform="translate(1882.5,437.3) scale(0.9388,1)" font-size="9.8" fill="#000" text-anchor="start" textLength="24.07" lengthAdjust="spacingAndGlyphs" stroke="#000" stroke-width="0.15" >81.70</text>
<text transform="translate(1882.5,470.4) scale(0.9388,1)" font-size="9.8" fill="#000" text-anchor="start" textLength="24.07" lengthAdjust="spacingAndGlyphs" stroke="#000" stroke-width="0.15" >78.55</text>
<text transform="translate(1882.5,503.5) scale(0.9388,1)" font-size="9.8" fill="#000" text-anchor="start" textLength="24.07" lengthAdjust="spacingAndGlyphs" stroke="#000" stroke-width="0.15" >75.40</text>
<text transform="translate(1882.5,536.5) scale(0.9388,1)" font-size="9.8" fill="#000" text-anchor="start" textLength="24.07" lengthAdjust="spacingAndGlyphs" stroke="#000" stroke-width="0.15" >72.25</text>
<text transform="translate(1882.5,569.6) scale(0.9388,1)" font-size="9.8" fill="#000" text-anchor="start" textLength="24.07" lengthAdjust="spacingAndGlyphs" stroke="#000" stroke-width="0.15" >69.10</text>
<text transform="translate(1882.5,602.7) scale(0.9388,1)" font-size="9.8" fill="#000" text-anchor="start" textLength="24.07" lengthAdjust="spacingAndGlyphs" stroke="#000" stroke-width="0.15" >65.95</text>
<text transform="translate(1882.5,635.2) scale(0.9388,1)" font-size="9.8" fill="#000" text-anchor="start" textLength="24.07" lengthAdjust="spacingAndGlyphs" stroke="#000" stroke-width="0.15" >62.85</text>
<text transform="translate(1882.5,668.3) scale(0.9388,1)" font-size="9.8" fill="#000" text-anchor="start" textLength="24.07" lengthAdjust="spacingAndGlyphs" stroke="#000" stroke-width="0.15" >59.70</text>
<text transform="translate(1882.5,701.4) scale(0.9388,1)" font-size="9.8" fill="#000" text-anchor="start" textLength="24.07" lengthAdjust="spacingAndGlyphs" stroke="#000" stroke-width="0.15" >56.55</text>
<text transform="translate(1882.5,734.5) scale(0.9388,1)" font-size="9.8" fill="#000" text-anchor="start" textLength="24.07" lengthAdjust="spacingAndGlyphs" stroke="#000" stroke-width="0.15" >53.40</text>
<g shape-rendering="crispEdges">
<rect x="1878" y="31" width="36" height="11" fill="#ff0000"/>
<rect x="1878" y="103" width="36" height="11" fill="#ff0000"/>
<rect x="1878" y="162" width="36" height="11" fill="#ff0000"/>
<rect x="1878" y="226" width="36" height="11" fill="#ff0000"/>
<rect x="1878" y="317" width="31" height="11" fill="#ff0000"/>
<rect x="1878" y="371" width="31" height="11" fill="#006400"/>
<rect x="1878" y="425" width="31" height="11" fill="#006400"/>
<rect x="1878" y="482" width="31" height="11" fill="#006400"/>
<rect x="1878" y="551" width="31" height="11" fill="#006400"/>
<rect x="1878" y="591" width="31" height="11" fill="#006400"/>
<rect x="1878" y="637" width="31" height="11" fill="#006400"/>
<rect x="1878" y="658" width="31" height="11" fill="#006400"/>
<rect x="1878" y="698" width="31" height="11" fill="#006400"/>
<rect x="1878" y="338" width="31" height="11" fill="#000"/>
</g>
<text transform="translate(1882.5,40) scale(0.9388,1)" font-size="9.8" fill="#fff" text-anchor="start" textLength="29.29" lengthAdjust="spacingAndGlyphs" stroke="#fff" stroke-width="0.15" >119.50</text>
<text transform="translate(1882.5,112) scale(0.9388,1)" font-size="9.8" fill="#fff" text-anchor="start" textLength="29.29" lengthAdjust="spacingAndGlyphs" stroke="#fff" stroke-width="0.15" >112.70</text>
<text transform="translate(1882.5,171) scale(0.9388,1)" font-size="9.8" fill="#fff" text-anchor="start" textLength="29.29" lengthAdjust="spacingAndGlyphs" stroke="#fff" stroke-width="0.15" >107.00</text>
<text transform="translate(1882.5,235) scale(0.9388,1)" font-size="9.8" fill="#fff" text-anchor="start" textLength="29.29" lengthAdjust="spacingAndGlyphs" stroke="#fff" stroke-width="0.15" >100.90</text>
<text transform="translate(1882.5,326) scale(0.9388,1)" font-size="9.8" fill="#fff" text-anchor="start" textLength="24.07" lengthAdjust="spacingAndGlyphs" stroke="#fff" stroke-width="0.15" >92.25</text>
<text transform="translate(1882.5,380) scale(0.9388,1)" font-size="9.8" fill="#fff" text-anchor="start" textLength="24.07" lengthAdjust="spacingAndGlyphs" stroke="#fff" stroke-width="0.15" >87.10</text>
<text transform="translate(1882.5,434) scale(0.9388,1)" font-size="9.8" fill="#fff" text-anchor="start" textLength="24.07" lengthAdjust="spacingAndGlyphs" stroke="#fff" stroke-width="0.15" >82.00</text>
<text transform="translate(1882.5,491) scale(0.9388,1)" font-size="9.8" fill="#fff" text-anchor="start" textLength="24.07" lengthAdjust="spacingAndGlyphs" stroke="#fff" stroke-width="0.15" >76.60</text>
<text transform="translate(1882.5,560) scale(0.9388,1)" font-size="9.8" fill="#fff" text-anchor="start" textLength="24.07" lengthAdjust="spacingAndGlyphs" stroke="#fff" stroke-width="0.15" >70.00</text>
<text transform="translate(1882.5,600) scale(0.9388,1)" font-size="9.8" fill="#fff" text-anchor="start" textLength="24.07" lengthAdjust="spacingAndGlyphs" stroke="#fff" stroke-width="0.15" >66.20</text>
<text transform="translate(1882.5,646) scale(0.9388,1)" font-size="9.8" fill="#fff" text-anchor="start" textLength="24.07" lengthAdjust="spacingAndGlyphs" stroke="#fff" stroke-width="0.15" >61.80</text>
<text transform="translate(1882.5,667) scale(0.9388,1)" font-size="9.8" fill="#fff" text-anchor="start" textLength="24.07" lengthAdjust="spacingAndGlyphs" stroke="#fff" stroke-width="0.15" >59.80</text>
<text transform="translate(1882.5,707) scale(0.9388,1)" font-size="9.8" fill="#fff" text-anchor="start" textLength="24.07" lengthAdjust="spacingAndGlyphs" stroke="#fff" stroke-width="0.15" >56.00</text>
<text transform="translate(1882.5,346.9) scale(0.9388,1)" font-size="9.8" fill="#fff" text-anchor="start" textLength="24.07" lengthAdjust="spacingAndGlyphs" stroke="#fff" stroke-width="0.15" >90.40</text>
<text transform="translate(1880.1,746.9) scale(0.9388,1)" font-size="9.8" fill="#000" text-anchor="start" stroke="#000" stroke-width="0.15" >100</text>
<text transform="translate(1878.7,780) scale(0.9388,1)" font-size="9.8" fill="#000" text-anchor="start" stroke="#000" stroke-width="0.15" >70</text>
<text transform="translate(1878.7,806) scale(0.9388,1)" font-size="9.8" fill="#000" text-anchor="start" stroke="#000" stroke-width="0.15" >50</text>
<text transform="translate(1878.7,832) scale(0.9388,1)" font-size="9.8" fill="#000" text-anchor="start" stroke="#000" stroke-width="0.15" >30</text>
<text transform="translate(1879.8,863.8) scale(0.9388,1)" font-size="9.8" fill="#000" text-anchor="start" stroke="#000" stroke-width="0.15" >0</text>
<g shape-rendering="crispEdges" fill="#000">
<rect x="3" y="868" width="1" height="3"/>
<rect x="67" y="868" width="1" height="3"/>
<rect x="131" y="868" width="1" height="3"/>
<rect x="195" y="868" width="1" height="3"/>
<rect x="259" y="868" width="1" height="3"/>
<rect x="323" y="868" width="1" height="3"/>
<rect x="387" y="868" width="1" height="3"/>
<rect x="451" y="868" width="1" height="3"/>
<rect x="515" y="868" width="1" height="3"/>
<rect x="579" y="868" width="1" height="3"/>
<rect x="643" y="868" width="1" height="3"/>
<rect x="707" y="868" width="1" height="3"/>
<rect x="771" y="868" width="1" height="3"/>
<rect x="835" y="868" width="1" height="3"/>
<rect x="899" y="868" width="1" height="3"/>
<rect x="963" y="868" width="1" height="3"/>
<rect x="1027" y="868" width="1" height="3"/>
<rect x="1091" y="868" width="1" height="3"/>
<rect x="1155" y="868" width="1" height="3"/>
<rect x="1219" y="868" width="1" height="3"/>
<rect x="1283" y="868" width="1" height="3"/>
<rect x="1347" y="868" width="1" height="3"/>
<rect x="1411" y="868" width="1" height="3"/>
<rect x="1475" y="868" width="1" height="3"/>
<rect x="1539" y="868" width="1" height="3"/>
</g>
<text transform="translate(2.2,879.6) scale(0.9388,1)" font-size="9.8" fill="#000" text-anchor="start" stroke="#000" stroke-width="0.15" >18 Jun 2025</text>
<text transform="translate(66.2,879.6) scale(0.9388,1)" font-size="9.8" fill="#000" text-anchor="start" stroke="#000" stroke-width="0.15" >30 Jun 2025</text>
<text transform="translate(130.2,879.6) scale(0.9388,1)" font-size="9.8" fill="#000" text-anchor="start" stroke="#000" stroke-width="0.15" >10 Jul 2025</text>
<text transform="translate(194.2,879.6) scale(0.9388,1)" font-size="9.8" fill="#000" text-anchor="start" stroke="#000" stroke-width="0.15" >22 Jul 2025</text>
<text transform="translate(258.2,879.6) scale(0.9388,1)" font-size="9.8" fill="#000" text-anchor="start" textLength="49.85" lengthAdjust="spacingAndGlyphs" stroke="#000" stroke-width="0.15" >1 Aug 2025</text>
<text transform="translate(322.2,879.6) scale(0.9388,1)" font-size="9.8" fill="#000" text-anchor="start" textLength="55.18" lengthAdjust="spacingAndGlyphs" stroke="#000" stroke-width="0.15" >13 Aug 2025</text>
<text transform="translate(386.2,879.6) scale(0.9388,1)" font-size="9.8" fill="#000" text-anchor="start" textLength="55.18" lengthAdjust="spacingAndGlyphs" stroke="#000" stroke-width="0.15" >25 Aug 2025</text>
<text transform="translate(450.2,879.6) scale(0.9388,1)" font-size="9.8" fill="#000" text-anchor="start" stroke="#000" stroke-width="0.15" >4 Sep 2025</text>
<text transform="translate(514.2,879.6) scale(0.9388,1)" font-size="9.8" fill="#000" text-anchor="start" stroke="#000" stroke-width="0.15" >16 Sep 2025</text>
<text transform="translate(578.2,879.6) scale(0.9388,1)" font-size="9.8" fill="#000" text-anchor="start" stroke="#000" stroke-width="0.15" >26 Sep 2025</text>
<text transform="translate(642.2,879.6) scale(0.9388,1)" font-size="9.8" fill="#000" text-anchor="start" textLength="49.21" lengthAdjust="spacingAndGlyphs" stroke="#000" stroke-width="0.15" >8 Oct 2025</text>
<text transform="translate(706.2,879.6) scale(0.9388,1)" font-size="9.8" fill="#000" text-anchor="start" textLength="54.11" lengthAdjust="spacingAndGlyphs" stroke="#000" stroke-width="0.15" >20 Oct 2025</text>
<text transform="translate(770.2,879.6) scale(0.9388,1)" font-size="9.8" fill="#000" text-anchor="start" textLength="53.90" lengthAdjust="spacingAndGlyphs" stroke="#000" stroke-width="0.15" >30 Oct 2025</text>
<text transform="translate(834.2,879.6) scale(0.9388,1)" font-size="9.8" fill="#000" text-anchor="start" textLength="56.46" lengthAdjust="spacingAndGlyphs" stroke="#000" stroke-width="0.15" >11 Nov 2025</text>
<text transform="translate(898.2,879.6) scale(0.9388,1)" font-size="9.8" fill="#000" text-anchor="start" textLength="57.20" lengthAdjust="spacingAndGlyphs" stroke="#000" stroke-width="0.15" >21 Nov 2025</text>
<text transform="translate(962.2,879.6) scale(0.9388,1)" font-size="9.8" fill="#000" text-anchor="start" stroke="#000" stroke-width="0.15" >3 Dec 2025</text>
<text transform="translate(1026.2,879.6) scale(0.9388,1)" font-size="9.8" fill="#000" text-anchor="start" stroke="#000" stroke-width="0.15" >15 Dec 2025</text>
<text transform="translate(1090.2,879.6) scale(0.9388,1)" font-size="9.8" fill="#000" text-anchor="start" stroke="#000" stroke-width="0.15" >26 Dec 2025</text>
<text transform="translate(1154.2,879.6) scale(0.9388,1)" font-size="9.8" fill="#000" text-anchor="start" stroke="#000" stroke-width="0.15" >8 Jan 2026</text>
<text transform="translate(1218.2,879.6) scale(0.9388,1)" font-size="9.8" fill="#000" text-anchor="start" stroke="#000" stroke-width="0.15" >20 Jan 2026</text>
<text transform="translate(1282.2,879.6) scale(0.9388,1)" font-size="9.8" fill="#000" text-anchor="start" stroke="#000" stroke-width="0.15" >30 Jan 2026</text>
<text transform="translate(1346.2,879.6) scale(0.9388,1)" font-size="9.8" fill="#000" text-anchor="start" textLength="54.65" lengthAdjust="spacingAndGlyphs" stroke="#000" stroke-width="0.15" >11 Feb 2026</text>
<text transform="translate(1410.2,879.6) scale(0.9388,1)" font-size="9.8" fill="#000" text-anchor="start" stroke="#000" stroke-width="0.15" >23 Feb 2026</text>
<text transform="translate(1474.2,879.6) scale(0.9388,1)" font-size="9.8" fill="#000" text-anchor="start" stroke="#000" stroke-width="0.15" >5 Mar 2026</text>
<text transform="translate(1538.2,879.6) scale(0.9388,1)" font-size="9.8" fill="#000" text-anchor="start" stroke="#000" stroke-width="0.15" >17 Mar 2026</text>
<text x="1873" y="159.1" font-size="27.5" fill="#ff0000" text-anchor="end" >R3 - 107.00</text>
<text x="1873" y="224.5" font-size="27.5" fill="#ff0000" text-anchor="end" >R2 - 100.90</text>
<text x="1873" y="314.8" font-size="27.5" fill="#ff0000" text-anchor="end" >R1 - 92.25</text>
<text x="1873" y="404.8" font-size="27.5" fill="#006400" text-anchor="end" >S1 - 87.10</text>
<text x="1873.9" y="459.1" font-size="27.5" fill="#006400" text-anchor="end" >S2 - 82.00</text>
<text x="1873.9" y="516.6" font-size="27.5" fill="#006400" text-anchor="end" >S3 - 76.60</text>
</svg></body></html>
